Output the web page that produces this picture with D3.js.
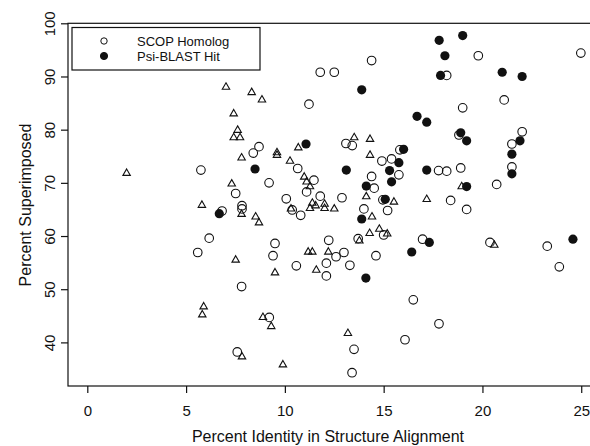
<!DOCTYPE html>
<html>
<head>
<meta charset="utf-8">
<script src="https://cdn.jsdelivr.net/npm/d3@7"></script>
<style>
  body { margin: 0; background: #fff; }
  svg { display: block; font-family: "Liberation Sans", Arial, sans-serif; }
</style>
</head>
<body>
<svg id="SCATTER"></svg>
<script>
// [percent identity, percent superimposed]
const scopHomolog = [
  [5.75, 72.4], [8.69, 76.8], [8.4, 75.6], [9.2, 70.0], [7.51, 68.0], [7.83, 65.7], [7.83, 65.1],
  [10.07, 67.0], [10.37, 64.9], [6.82, 64.7], [10.65, 72.7], [11.79, 90.8], [12.5, 90.8],
  [14.39, 93.0], [19.79, 93.9], [24.98, 94.4], [18.19, 90.2], [21.1, 85.6], [19.0, 84.1],
  [11.22, 84.8], [18.81, 79.0], [22.01, 79.6], [21.49, 77.3], [21.49, 73.0], [20.72, 69.7],
  [13.09, 77.4], [13.41, 77.0], [15.82, 76.2], [14.91, 74.1], [15.4, 74.5], [15.77, 71.5],
  [14.39, 71.2], [14.52, 69.0], [17.78, 72.3], [18.19, 72.2], [18.9, 72.8], [18.39, 66.7],
  [19.2, 65.0], [12.89, 67.2], [11.79, 67.5], [11.47, 70.5], [11.1, 68.3], [14.0, 65.1],
  [15.2, 64.8], [14.96, 66.8], [10.8, 63.9], [10.58, 54.4], [12.22, 59.2], [12.1, 54.9],
  [12.1, 52.5], [12.59, 56.1], [12.99, 56.9], [13.29, 54.5], [13.71, 59.5], [14.61, 56.3],
  [15.0, 60.2], [16.97, 59.4], [20.38, 58.8], [23.28, 58.1], [23.89, 54.2], [16.5, 48.0],
  [17.8, 43.5], [16.08, 40.5], [13.5, 38.7], [13.4, 34.3], [6.17, 59.6], [5.59, 56.9],
  [9.5, 58.6], [9.4, 56.3], [7.81, 50.5], [9.21, 44.7], [7.59, 38.2]
];

const psiBlastHit = [
  [17.81, 96.8], [19.0, 97.7], [18.1, 93.9], [17.88, 90.2], [21.0, 90.8], [22.01, 90.0],
  [13.89, 87.5], [16.69, 82.5], [17.18, 81.4], [18.9, 79.4], [19.2, 77.9], [21.9, 77.9],
  [21.49, 75.4], [21.49, 71.7], [11.07, 77.3], [13.11, 72.4], [15.3, 72.3], [15.4, 70.2],
  [15.77, 73.8], [16.01, 76.3], [14.12, 69.4], [15.08, 66.9], [17.18, 72.4], [19.2, 69.3],
  [13.89, 63.2], [8.49, 72.6], [6.68, 64.2], [17.31, 58.8], [16.42, 57.0], [14.1, 52.1],
  [24.58, 59.4]
];

// triangles, not in the legend
const otherHits = [
  [7.02, 88.0], [8.32, 87.0], [8.84, 85.6], [7.41, 83.0], [7.61, 79.9], [7.41, 78.5], [7.73, 78.5],
  [7.81, 74.7], [1.99, 71.8], [7.31, 69.8], [5.8, 65.8], [7.81, 64.1], [8.52, 63.6], [8.69, 62.5],
  [9.6, 75.7], [9.6, 75.2], [10.26, 74.1], [10.68, 76.6], [13.51, 78.5], [14.31, 78.2],
  [14.31, 75.2], [10.98, 71.1], [11.1, 70.2], [11.27, 69.3], [14.12, 67.4], [15.52, 66.4],
  [17.18, 66.9], [11.39, 66.2], [11.56, 65.7], [12.01, 66.0], [11.27, 65.2], [12.01, 65.2],
  [12.5, 65.1], [14.41, 63.6], [14.78, 61.3], [18.95, 69.3], [11.18, 57.0], [11.39, 57.0],
  [12.2, 57.0], [11.59, 53.6], [14.29, 60.5], [15.18, 60.4], [13.77, 59.1], [20.6, 58.3],
  [13.19, 41.7], [7.51, 55.5], [9.5, 53.1], [5.89, 46.7], [5.82, 45.2], [8.89, 44.7],
  [9.31, 43.0], [7.83, 37.3], [9.9, 35.8], [10.31, 65.1]
];

const xTicks = [0, 5, 10, 15, 20, 25];
const yTicks = [40, 50, 60, 70, 80, 90, 100];
const legendLabels = ["SCOP Homolog", "Psi-BLAST Hit"];

const width = 590;
const height = 446;
const ink = "#111";

const svg = d3.select("#SCATTER").attr("width", width).attr("height", height);

const x = d3.scaleLinear().domain([-0.977, 25.95]).range([68, 600]);
const y = d3.scaleLinear().domain([31.8, 100]).range([386, 23.3]);

// frame
svg.append("rect")
  .attr("x", x.range()[0]).attr("y", y.range()[1])
  .attr("width", x.range()[1] - x.range()[0])
  .attr("height", y.range()[0] - y.range()[1])
  .attr("fill", "none").attr("stroke", ink).attr("stroke-width", 1.2);

const xAxis = svg.append("g")
  .attr("transform", `translate(0,${y.range()[0]})`)
  .call(d3.axisBottom(x).tickValues(xTicks).tickSize(7).tickPadding(12).tickFormat(d3.format("d")));
xAxis.select(".domain").remove();

const yAxis = svg.append("g")
  .attr("transform", `translate(${x.range()[0]},0)`)
  .call(d3.axisLeft(y).tickValues(yTicks).tickSize(7).tickFormat(d3.format("d")));
yAxis.select(".domain").remove();
// R style: y labels turned parallel to the axis
yAxis.selectAll("text")
  .attr("x", null).attr("dy", null)
  .attr("transform", "translate(-13,0) rotate(-90)")
  .attr("text-anchor", "middle");

svg.selectAll(".tick line").attr("stroke", ink).attr("stroke-width", 1.2);
svg.selectAll(".tick text")
  .attr("fill", ink)
  .style("font-family", "Liberation Sans, Arial, sans-serif")
  .style("font-size", "15px");

svg.append("text")
  .attr("x", 328).attr("y", 442)
  .attr("text-anchor", "middle")
  .attr("fill", ink).style("font-size", "16px")
  .text("Percent Identity in Structure Alignment");

svg.append("text")
  .attr("transform", "translate(31,205) rotate(-90)")
  .attr("text-anchor", "middle")
  .attr("fill", ink).style("font-size", "16px")
  .text("Percent Superimposed");

const plot = svg.append("g");

plot.append("g")
  .selectAll("path")
  .data(otherHits)
  .join("path")
  .attr("transform", (d) => `translate(${x(d[0])},${y(d[1])})`)
  .attr("d", d3.symbol(d3.symbolTriangle, 24))
  .attr("fill", "none").attr("stroke", ink).attr("stroke-width", 1.1);

plot.append("g")
  .selectAll("circle")
  .data(scopHomolog)
  .join("circle")
  .attr("cx", (d) => x(d[0])).attr("cy", (d) => y(d[1]))
  .attr("r", 4.3)
  .attr("fill", "none").attr("stroke", ink).attr("stroke-width", 1.1);

plot.append("g")
  .selectAll("circle")
  .data(psiBlastHit)
  .join("circle")
  .attr("cx", (d) => x(d[0])).attr("cy", (d) => y(d[1]))
  .attr("r", 4.6)
  .attr("fill", ink);

// legend
const legend = svg.append("g").attr("transform", "translate(72,27.5)");
legend.append("rect")
  .attr("width", 188).attr("height", 42.5)
  .attr("fill", "#fff").attr("stroke", ink).attr("stroke-width", 1.2);

const legendItem = legend.selectAll("g.item")
  .data(legendLabels)
  .join("g")
  .attr("class", "item")
  .attr("transform", (d, i) => `translate(0,${14 + i * 15})`);

legendItem.append("circle")
  .attr("cx", 32).attr("cy", -0.5)
  .attr("r", (d, i) => (i === 0 ? 3.2 : 3.6))
  .attr("fill", (d, i) => (i === 0 ? "none" : ink))
  .attr("stroke", ink).attr("stroke-width", 1);

legendItem.append("text")
  .attr("x", 65).attr("dy", "0.38em")
  .attr("fill", ink).style("font-size", "13px")
  .text((d) => d);
</script>
</body>
</html>
